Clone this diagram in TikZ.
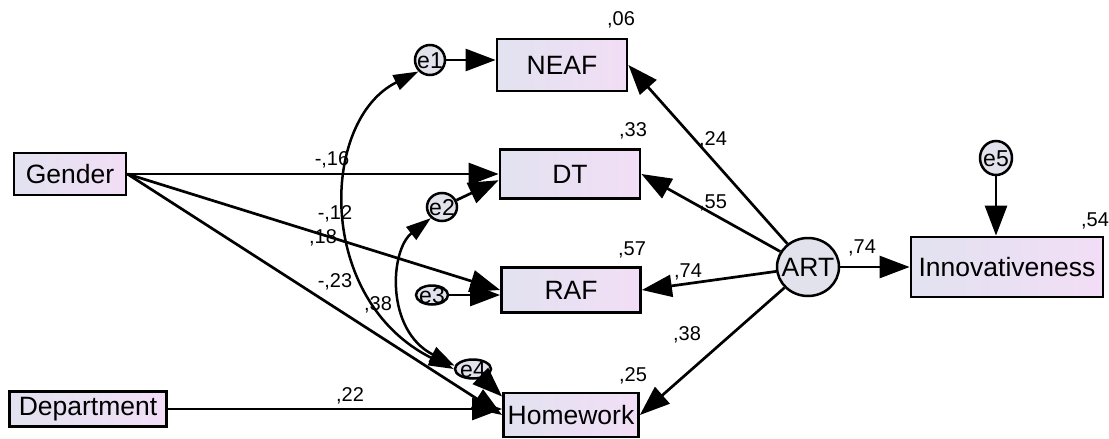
\documentclass[tikz,border=0pt]{standalone}
\usepackage{fontspec}
\setmainfont{Liberation Sans}
\usetikzlibrary{shapes.geometric, arrows.meta}

\definecolor{boxleft}{RGB}{226,226,240}
\definecolor{boxright}{RGB}{242,222,246}
\definecolor{errfill}{RGB}{226,226,236}

% text of a latent / error node, kept from widening the ellipse
\newcommand{\inell}[1]{\makebox[0pt]{\smash{\raisebox{-0.36em}{#1}}}}

\tikzset{
  var/.style={draw, line width=2.8pt, left color=boxleft, right color=boxright,
    inner sep=0pt, font=\fontsize{26.5}{30}\selectfont},
  err/.style={ellipse, draw, line width=2.5pt, fill=errfill, inner sep=0pt,
    font=\fontsize{23}{26}\selectfont},
  est/.style={inner sep=0pt, font=\fontsize{20}{23}\selectfont},
  reg/.style={line width=2.7pt, -{Triangle[length=30pt, width=22pt]}},
  cov/.style={line width=2.5pt,
    {Triangle[length=25pt, width=16pt]}-{Triangle[length=25pt, width=16pt]}}
}

\begin{document}
\begin{tikzpicture}[x=1pt, y=-1pt]
    \useasboundingbox (0,0) rectangle (1109,439);
    \node[var, minimum width=112pt, minimum height=42pt] (gender) at (70,174) {Gender};
    \node[var, minimum width=157pt, minimum height=35pt] (dept) at (88,409) {Department};
    \node[var, minimum width=130pt, minimum height=52pt] (neaf) at (562,65) {NEAF};
    \node[var, minimum width=140pt, minimum height=49pt] (dt) at (570,174) {DT};
    \node[var, minimum width=139pt, minimum height=45pt] (raf) at (571,290) {RAF};
    \node[var, minimum width=135pt, minimum height=44pt] (hw) at (571,415) {Homework};
    \node[var, minimum width=192pt, minimum height=60pt] (innov) at (1007,267) {Innovativeness};
    \node[err, minimum width=62pt, minimum height=58pt, font=\fontsize{26.5}{30}\selectfont] (art) at (808,267) {\inell{ART}};
    \node[err, minimum width=30pt, minimum height=30pt] (e1) at (430,60) {\inell{e1}};
    \node[err, minimum width=30pt, minimum height=28pt] (e2) at (442,207) {\inell{e2}};
    \node[err, minimum width=32pt, minimum height=19pt] (e3) at (432,295) {\inell{e3}};
    \node[err, minimum width=36pt, minimum height=19pt] (e4) at (473,369) {\inell{e4}};
    \node[err, minimum width=32pt, minimum height=34pt] (e5) at (996,158) {\inell{e5}};

    \node[est] (r2neaf) at (621,20) {,06};
    \node[est] (r2dt) at (633,131) {,33};
    \node[est] (r2raf) at (632,250) {,57};
    \node[est] (r2hw) at (633,376) {,25};
    \node[est] (r2innov) at (1095,221) {,54};

    \draw[reg] (gender.east) -- (gender.east -| dt.west);
    \draw[reg] (gender.east) -- (raf.west);
    \draw[reg] (gender.east) -- (hw.west);
    \draw[reg] (dept.east) -- (dept.east -| hw.west);
    \draw[reg] (e1) -- (e1 -| neaf.west);
    \draw[reg] (e2) -- (dt.185);
    \draw[reg] (e3) -- (e3 -| raf.west);
    \draw[reg] (e4) -- (hw.165);
    \draw[reg] (e5) -- (e5 |- innov.north);
    \draw[reg] (art) -- (neaf.east);
    \draw[reg] (art) -- (dt.east);
    \draw[reg] (art) -- (raf.east);
    \draw[reg] (art) -- (hw.east);
    \draw[reg] (art) -- (innov);
    \draw[cov] (e1.225) .. controls (320,120) and (315,300) .. (e4.west);
    \draw[cov] (e2.225) .. controls (390,250) and (385,330) .. (e4.170);

    \node[est] (bneaf) at (713,140) {,24};
    \node[est] (bdt) at (713,203) {,55};
    \node[est] (braf) at (688,272) {,74};
    \node[est] (bhw) at (687,335) {,38};
    \node[est] (binnov) at (862,248) {,74};
    \node[est] (gdt) at (332,160) {-,16};
    \node[est] (graf) at (335,214) {-,12};
    \node[est] (ghw) at (323,238) {,18};
    \node[est] (c14) at (335,282) {-,23};
    \node[est] (c24) at (378,305) {,38};
    \node[est] (dhw) at (350,396) {,22};
\end{tikzpicture}
\end{document}
